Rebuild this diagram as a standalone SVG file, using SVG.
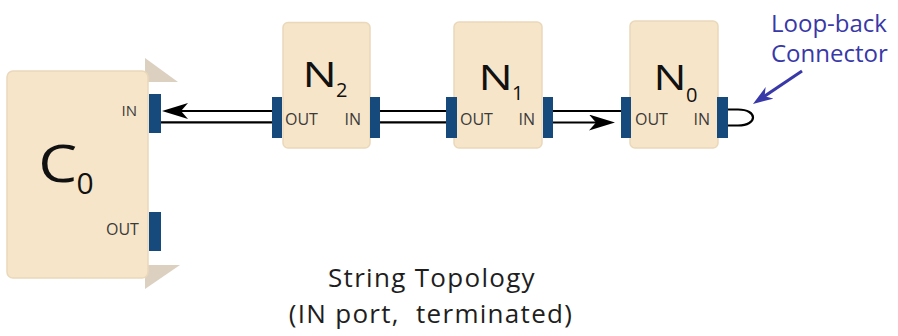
<svg xmlns="http://www.w3.org/2000/svg" width="898" height="336" viewBox="0 0 898 336">
  <style>
    .box { fill: #f6e5c9; stroke: #ead8ba; stroke-width: 1.5; }
    .tab { fill: #dcd0c1; }
    .port { fill: #174a7c; }
    .lbl { font-family: "Open Sans", "Noto Sans", sans-serif; font-size: 16px; fill: #3a3a3a; }
    .big { font-family: "Open Sans", "Noto Sans", sans-serif; fill: #111; }
    .wire { stroke: #000; stroke-width: 2.2; fill: none; }
    .blue { font-family: "Open Sans", "Noto Sans", sans-serif; font-size: 24px; fill: #3838a8; }
    .cap { font-family: "Open Sans", "Noto Sans", sans-serif; font-size: 26px; fill: #1e1e1e; letter-spacing: 1.3px; }
  </style>
  <defs>
    <marker id="arrowBlack" markerUnits="userSpaceOnUse" viewBox="0 0 26 16" refX="18" refY="8" markerWidth="26" markerHeight="16" orient="auto">
      <path d="M26,8 L0,0 L7,8 L0,16 Z" fill="#000"/>
    </marker>
    <marker id="arrowBlue" markerUnits="userSpaceOnUse" viewBox="0 0 20 14" refX="12" refY="7" markerWidth="20" markerHeight="14" orient="auto">
      <path d="M20,7 L0,0 L6,7 L0,14 Z" fill="#3838a8"/>
    </marker>
  </defs>

  <g id="C0">
    <polygon class="tab" points="145,58 178,82 145,82"/>
    <polygon class="tab" points="145,265 180,265 145,289"/>
    <rect class="box" x="7" y="71" width="141" height="207" rx="6"/>
    <rect class="port" x="149" y="94" width="12" height="39"/>
    <rect class="port" x="149" y="212" width="12" height="39"/>
    <text class="lbl" x="121.5" y="116" style="font-size:15px">IN</text>
    <text class="lbl" x="106" y="235">OUT</text>
    <text class="big" transform="translate(38.2,181.5) scale(1.19,1)" style="font-size:52px">C</text>
    <text class="big" x="76.5" y="194" style="font-size:30px">0</text>
  </g>

  <g id="N2">
    <rect class="box" x="283" y="22.5" width="87" height="125.5" rx="5"/>
    <rect class="port" x="272" y="97" width="10" height="41"/>
    <rect class="port" x="370" y="97" width="10" height="41"/>
    <text class="big" transform="translate(302.5,87) scale(1.3,1)" style="font-size:35px">N</text>
    <text class="big" x="336" y="97" style="font-size:20px">2</text>
    <text class="lbl" x="285" y="125">OUT</text>
    <text class="lbl" x="344.5" y="125">IN</text>
  </g>

  <g id="N1">
    <rect class="box" x="454" y="22" width="88" height="126" rx="5"/>
    <rect class="port" x="446" y="97" width="11" height="41"/>
    <rect class="port" x="543" y="97" width="10" height="41"/>
    <text class="big" transform="translate(478.5,90) scale(1.3,1)" style="font-size:35px">N</text>
    <text class="big" x="512" y="100" style="font-size:20px">1</text>
    <text class="lbl" x="460" y="125">OUT</text>
    <text class="lbl" x="518.5" y="125">IN</text>
  </g>

  <g id="N0">
    <rect class="box" x="630" y="21" width="88" height="127" rx="5"/>
    <rect class="port" x="621" y="97" width="10" height="41"/>
    <rect class="port" x="717" y="97" width="11" height="41"/>
    <text class="big" transform="translate(653.5,90) scale(1.25,1)" style="font-size:35px">N</text>
    <text class="big" x="686" y="102" style="font-size:20px">0</text>
    <text class="lbl" x="635" y="125">OUT</text>
    <text class="lbl" x="693.5" y="125">IN</text>
  </g>

  <g id="connectors">
    <line class="wire" x1="272" y1="111" x2="170" y2="111" marker-end="url(#arrowBlack)"/>
    <line class="wire" x1="161" y1="122.3" x2="272" y2="122.3"/>
    <line class="wire" x1="380" y1="111" x2="446" y2="111"/>
    <line class="wire" x1="380" y1="122.3" x2="446" y2="122.3"/>
    <line class="wire" x1="553" y1="111" x2="621" y2="111"/>
    <line class="wire" x1="553" y1="122.5" x2="607" y2="122.5" marker-end="url(#arrowBlack)"/>
    <path class="wire" d="M728,109.5 H738 C758,109.5 758,125.5 738,125.5 H728"/>
    <line x1="802" y1="71" x2="759.6" y2="99.5" stroke="#3838a8" stroke-width="3" marker-end="url(#arrowBlue)"/>
  </g>

  <g id="loopback-label">
    <text class="blue" x="771" y="32">Loop-back</text>
    <text class="blue" x="771" y="62">Connector</text>
  </g>

  <g id="caption">
    <text class="cap" x="432" y="287" text-anchor="middle">String Topology</text>
    <text class="cap" x="431" y="323" text-anchor="middle" xml:space="preserve">(IN port,  terminated)</text>
  </g>
</svg>
